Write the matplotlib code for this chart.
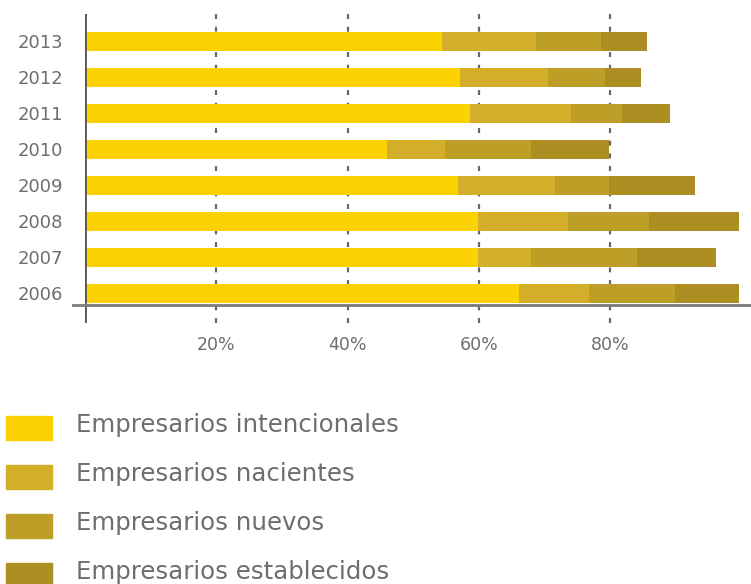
import matplotlib
matplotlib.use("Agg")
import matplotlib.pyplot as plt
from matplotlib.patches import Rectangle
from matplotlib.lines import Line2D

# datos (porcentaje de cada tipo de empresario por año)
anios = ["2006", "2007", "2008", "2009", "2010", "2011", "2012", "2013"]
intencionales = [66.1, 59.9, 59.9, 56.8, 46.0, 58.6, 57.1, 54.4]
nacientes = [10.7, 8.0, 13.7, 14.8, 8.8, 15.4, 13.4, 14.3]
nuevos = [13.1, 16.2, 12.2, 8.2, 13.1, 7.8, 8.7, 9.9]
establecidos = [9.6, 11.9, 13.8, 13.1, 11.9, 7.2, 5.5, 7.0]

series = ["Empresarios intencionales", "Empresarios nacientes",
          "Empresarios nuevos", "Empresarios establecidos"]
colores = ["#FCD202", "#D3AE28", "#BD9E27", "#AC8E22"]
ticks_x = [20, 40, 60, 80]

gris = "#6e6e6e"

fig = plt.figure(figsize=(7.51, 5.84), dpi=100)
ax = fig.add_axes([0.1132, 0.4469, 0.8868, 0.529])

valores = [intencionales, nacientes, nuevos, establecidos]
y = list(range(len(anios)))
izq = [0.0] * len(anios)
for vals, col in zip(valores, colores):
    ax.barh(y, vals, left=izq, height=0.53, color=col, zorder=3)
    izq = [a + b for a, b in zip(izq, vals)]

# rejilla punteada
for t in ticks_x:
    ax.axvline(t, color="#666666", lw=1.6, ls=(0, (2.2, 3.5)), zorder=1)

ax.set_xlim(0, 101.4)
ax.set_ylim(-0.82, 7.76)

for s in ax.spines.values():
    s.set_visible(False)

# ejes que se cruzan
ax.axvline(0, color="#555555", lw=2, zorder=4)
ax.add_line(Line2D([-1.8, 101.4], [-0.32, -0.32], color="#7a7a7a", lw=2,
                   clip_on=False, zorder=4))

ax.set_yticks(y)
ax.set_yticklabels(anios)
ax.set_xticks(ticks_x)
ax.set_xticklabels([f"{t}%" for t in ticks_x])
ax.tick_params(axis="y", length=0, pad=16, labelsize=13, labelcolor=gris)
ax.tick_params(axis="x", length=0, pad=9, labelsize=12.5, labelcolor=gris)

# leyenda manual
W, H = 751.0, 584.0
for i, (nombre, col) in enumerate(zip(series, colores)):
    yc = 428 + i * 49
    fig.patches.append(Rectangle((6 / W, 1 - (yc + 12) / H), 46 / W, 24 / H,
                                 transform=fig.transFigure, color=col))
    fig.text(76 / W, 1 - (yc - 3) / H, nombre, fontsize=17.6, color=gris,
             va="center", ha="left")

fig.savefig("out.png", dpi=100)
